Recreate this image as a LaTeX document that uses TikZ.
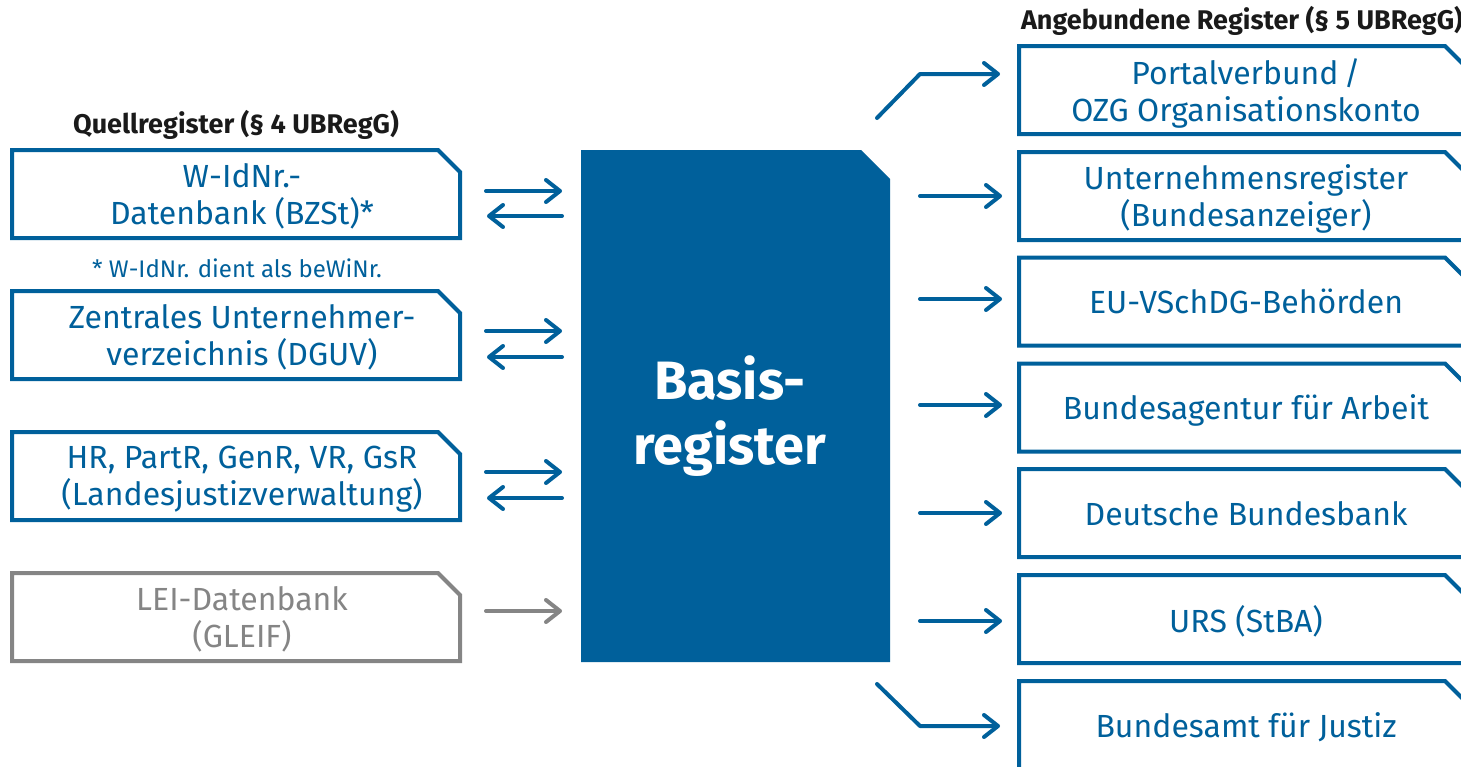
\documentclass[tikz,border=0pt]{standalone}
\usepackage{fontspec}
\setmainfont{Fira Sans}
\usetikzlibrary{arrows.meta,backgrounds}
\definecolor{bblue}{HTML}{00609B}
\definecolor{bgray}{HTML}{858585}
\definecolor{tdark}{HTML}{1A1A1A}
\begin{document}
\begin{tikzpicture}[x=1pt,y=-1pt,
  regbox/.style={rectangle, minimum width=448pt, minimum height=88pt, inner sep=0pt, outer sep=0pt,
    text=bblue, font=\fontsize{32}{37}\selectfont, align=center, text depth=0pt},
  boxline/.style={draw=bblue, line width=4pt, line join=miter},
  arr/.style={draw=bblue, line width=4pt, line cap=round, line join=round,
    -{Straight Barb[length=14pt,width=22pt,round]}},
  lr/.style={shorten <=20pt, shorten >=19pt},
  rl/.style={shorten <=19pt, shorten >=21pt},
  rr/.style={shorten <=30pt, shorten >=20pt},
  title/.style={font=\bfseries\fontsize{27}{32}\selectfont, text=tdark, inner sep=0pt}
]
\clip (0,0) rectangle (1461,766);
\useasboundingbox (0,0) rectangle (1461,766);

% titles
\node[title] (t1) at (236,125) {Quellregister (§ 4 UBRegG)};
\node[title] (t2) at (1242,21) {Angebundene Register (§ 5 UBRegG)};

% source registers
\node[regbox] (q1) at (242,194) {W-IdNr.-\\Datenbank (BZSt)*};
\node[regbox] (q2) at (242,335) {Zentrales Unternehmer-\\verzeichnis (DGUV)};
\node[regbox] (q3) at (242,476) {HR, PartR, GenR, VR, GsR\\(Landesjustizverwaltung)};
\node[regbox, text=bgray] (q4) at (242,617) {LEI-Datenbank\\(GLEIF)};
\node[text=bblue, font=\fontsize{24}{28}\selectfont, inner sep=0pt] (fn) at (237,268) {* W-IdNr. dient als beWiNr.};

% central block
\node[rectangle, minimum width=309pt, minimum height=512pt, inner sep=0pt, outer sep=0pt] (basis) at (735.5,406) {};
\node[text=white, font=\bfseries\fontsize{54}{65}\selectfont, align=center, inner sep=0pt] (btxt) at (730,416) {Basis-\\register};
\begin{scope}[on background layer]
\fill[bblue] (basis.south west) -- (basis.north west) -- ([xshift=-29pt]basis.north east)
  -- ([yshift=-29pt]basis.north east) -- (basis.south east) -- cycle;
\end{scope}

% connected registers
\node[regbox] (a1) at (1246,90) {Portalverbund\,/\\OZG Organisationskonto};
\node[regbox] (a2) at (1246,196) {Unternehmensregister\\(Bundesanzeiger)};
\node[regbox] (a3) at (1246,301.5) {EU-VSchDG-Behörden};
\node[regbox] (a4) at (1246,407.5) {Bundesagentur für Arbeit};
\node[regbox] (a5) at (1246,513) {Deutsche Bundesbank};
\node[regbox] (a6) at (1246,619) {URS (StBA)};
\node[regbox] (a7) at (1246,725) {Bundesamt für Justiz};

% outlines (text sits slightly right of box centre)
\foreach \n/\d in {q1/6,q2/6,q3/6,a1/3,a2/3,a3/3,a4/3,a5/3,a6/3,a7/3}{
  \draw[boxline] ([xshift=-\d pt]\n.south west) -- ([xshift=-\d pt]\n.north west) -- ([xshift=-\d pt-22pt]\n.north east)
    -- ([xshift=-\d pt,yshift=-22pt]\n.north east) -- ([xshift=-\d pt]\n.south east) -- cycle;
}
\draw[boxline, draw=bgray] ([xshift=-6pt]q4.south west) -- ([xshift=-6pt]q4.north west) -- ([xshift=-28pt]q4.north east)
    -- ([xshift=-6pt,yshift=-22pt]q4.north east) -- ([xshift=-6pt]q4.south east) -- cycle;

% arrows left side
\draw[arr,lr] (q1.east |- 0,191) -- (basis.west |- 0,191);
\draw[arr,rl] (basis.west |- 0,216) -- (q1.east |- 0,216);
\draw[arr,lr] (q2.east |- 0,331) -- (basis.west |- 0,331);
\draw[arr,rl] (basis.west |- 0,357) -- (q2.east |- 0,357);
\draw[arr,lr] (q3.east |- 0,472) -- (basis.west |- 0,472);
\draw[arr,rl] (basis.west |- 0,498) -- (q3.east |- 0,498);
\draw[arr,lr,draw=bgray] (q4.east |- 0,611) -- (basis.west |- 0,611);

% arrows right side
\coordinate (s1) at (877,118);
\coordinate (k1) at (920,74);
\draw[arr, shorten >=22pt] (s1) -- (k1) -- (a1.west |- k1);
\draw[arr,rr] (basis.east |- a2.west) -- (a2.west);
\draw[arr,rr] (basis.east |- 0,299) -- (a3.west |- 0,299);
\draw[arr,rr] (basis.east |- 0,405) -- (a4.west |- 0,405);
\draw[arr,rr] (basis.east |- a5.west) -- (a5.west);
\draw[arr,rr] (basis.east |- 0,621) -- (a6.west |- 0,621);
\coordinate (s7) at (877,684);
\coordinate (k7) at (920,726);
\draw[arr, shorten >=22pt] (s7) -- (k7) -- (a7.west |- k7);
\end{tikzpicture}
\end{document}
